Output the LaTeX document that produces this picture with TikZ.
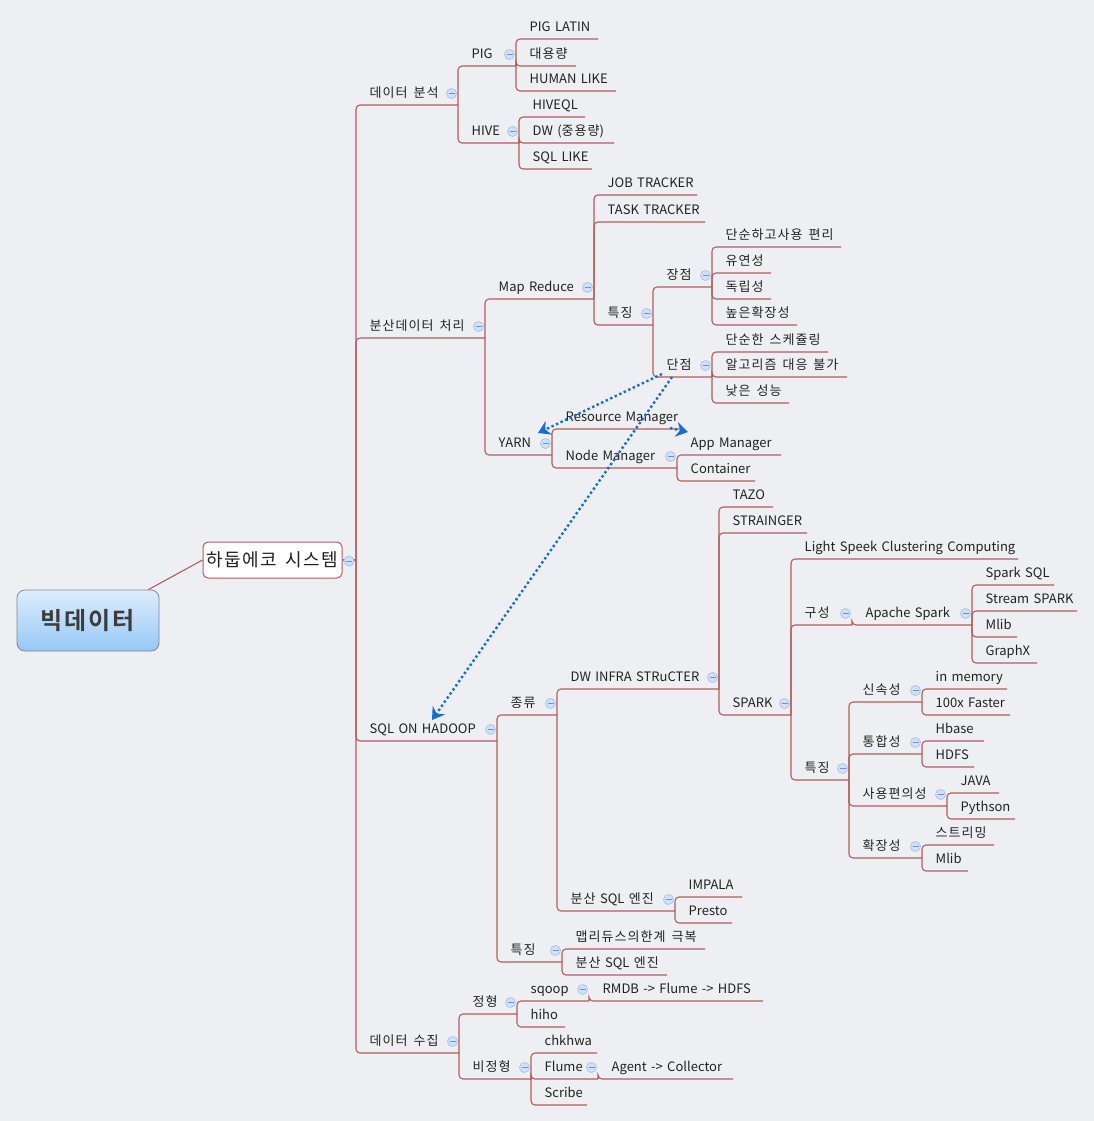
\documentclass[tikz,border=0pt]{standalone}
\usepackage{fontspec}
\setmainfont{Noto Sans CJK KR}[BoldFont={Noto Sans CJK KR Bold}, WordSpace=1.5]
\newfontfamily\krf{Noto Sans CJK KR}[BoldFont={Noto Sans CJK KR Bold}, LetterSpace=8, WordSpace=1.5]
\newcommand\kr[1]{{\krf #1}}
\usetikzlibrary{arrows.meta,shadings}
\definecolor{bgc}{RGB}{238,239,242}
\definecolor{brc}{RGB}{178,92,92}
\definecolor{txc}{RGB}{34,34,34}
\definecolor{icf}{RGB}{208,224,248}
\definecolor{icd}{RGB}{160,190,235}
\definecolor{icm}{RGB}{110,145,210}
\definecolor{relc}{RGB}{20,110,215}
\definecolor{rtop}{RGB}{222,237,253}
\definecolor{rbot}{RGB}{150,200,246}
\definecolor{rbrd}{RGB}{125,135,150}
\tikzset{
  branch/.style={draw=brc, line width=1.1pt, rounded corners=4pt},
  lbl/.style={inner sep=0pt, text=txc, font=\fontsize{13}{15}\selectfont},
  iconc/.style={circle, draw=icd, fill=icf, line width=0.6pt, minimum size=10pt, inner sep=0pt},
  iconm/.style={draw=icm, line width=1pt},
  rel/.style={draw=relc, line width=2.4pt, dash pattern=on 2.4pt off 2.6pt, -{Stealth[length=12pt,width=15pt,inset=4pt]}},
  hsbox/.style={draw=brc, fill=white, line width=1pt, rounded corners=5pt, minimum width=139pt, minimum height=36pt, inner sep=0pt, text=txc, font=\fontsize{18}{20}\selectfont},
  rootbox/.style={draw=rbrd, top color=rtop, bottom color=rbot, line width=0.8pt, rounded corners=8pt, minimum width=142pt, minimum height=61pt, inner sep=0pt, text={rgb,255:red,60;green,60;blue,60}, font=\fontsize{24}{26}\selectfont\bfseries}
}
% #1 name, #2 parent, #3 x end, #4 y, #5 text
\newcommand\tpc[5]{%
  \coordinate (#1-e) at (#3,#4);
  \coordinate (#1-s) at (#2-e |- #1-e);
  \draw[branch] (#2-e) |- (#1-e);
  \node[lbl, anchor=base west] (#1) at ([shift={(13.5,-7.5)}]#1-s) {#5};
}
\newcommand\icn[1]{%
  \node[iconc] at ([shift={(-6.5,-11.5)}]#1-e) {};
  \draw[iconm] ([shift={(-9.5,-11.5)}]#1-e) -- ++(6,0);
}
\begin{document}
\begin{tikzpicture}[x=1pt,y=-1pt]
\fill[bgc] (0,0) rectangle (1094,1121);
\useasboundingbox (0,0) rectangle (1094,1121);

\node[rootbox] (root) at (88,620.5) {\kr{빅데이터}};
\node[hsbox] (hs) at (272.5,560) {\kr{하둡에코 시스템}};
\coordinate (hs-e) at (356,560);
\draw[branch] ([xshift=-11pt]root.north east) -- (hs.west);
\draw[branch] (hs.east) -- (hs-e);

% Level 1
\tpc{da}{hs}{458}{105}{\kr{데이터 분석}}
\tpc{bd}{hs}{485}{338}{\kr{분산데이터 처리}}
\tpc{soh}{hs}{497}{741}{SQL ON HADOOP}
\tpc{dc}{hs}{459}{1053}{\kr{데이터 수집}}

% 데이터 분석
\tpc{pig}{da}{516}{66}{PIG}
\tpc{hive}{da}{519}{143}{HIVE}
\tpc{pl}{pig}{598}{39}{PIG LATIN}
\tpc{dy}{pig}{576}{66}{\kr{대용량}}
\tpc{hl}{pig}{616}{91}{HUMAN LIKE}
\tpc{hq}{hive}{585}{117}{HIVEQL}
\tpc{dw}{hive}{614}{143}{DW (\kr{중용량})}
\tpc{sl}{hive}{592}{169}{SQL LIKE}

% 분산데이터 처리
\tpc{mr}{bd}{594}{299}{Map Reduce}
\tpc{yarn}{bd}{552}{455}{YARN}
\tpc{jt}{mr}{697}{195}{JOB TRACKER}
\tpc{tt}{mr}{705}{222}{TASK TRACKER}
\tpc{mrf}{mr}{653}{325}{\kr{특징}}
\tpc{jj}{mrf}{712}{287}{\kr{장점}}
\tpc{dan}{mrf}{712}{377}{\kr{단점}}
\tpc{a1}{jj}{841}{247}{\kr{단순하고사용 편리}}
\tpc{a2}{jj}{771}{273}{\kr{유연성}}
\tpc{a3}{jj}{771}{299}{\kr{독립성}}
\tpc{a4}{jj}{797}{325}{\kr{높은확장성}}
\tpc{b1}{dan}{828}{352}{\kr{단순한 스케쥴링}}
\tpc{b2}{dan}{847}{377}{\kr{알고리즘 대응 불가}}
\tpc{b3}{dan}{789}{403}{\kr{낮은 성능}}
\tpc{rm}{yarn}{683}{429}{Resource Manager}
\tpc{nm}{yarn}{677}{468}{Node Manager}
\tpc{am}{nm}{781}{455}{App Manager}
\tpc{ct}{nm}{755}{481}{Container}

% SQL ON HADOOP
\tpc{kind}{soh}{557}{715}{\kr{종류}}
\tpc{sf}{soh}{562}{962}{\kr{특징}}
\tpc{dwi}{kind}{719}{689}{DW INFRA STRuCTER}
\tpc{dse}{kind}{675}{911}{\kr{분산} SQL \kr{엔진}}
\tpc{tazo}{dwi}{773}{507}{TAZO}
\tpc{str}{dwi}{807}{533}{STRAINGER}
\tpc{spark}{dwi}{791}{715}{SPARK}
\tpc{lsc}{spark}{1018}{559}{Light Speek Clustering Computing}
\tpc{gs}{spark}{852}{625}{\kr{구성}}
\tpc{spf}{spark}{849}{780}{\kr{특징}}
\tpc{as}{gs}{972}{625}{Apache Spark}
\tpc{s1}{as}{1054}{585}{Spark SQL}
\tpc{s2}{as}{1077}{611}{Stream SPARK}
\tpc{s3}{as}{1017}{637}{Mlib}
\tpc{s4}{as}{1037}{663}{GraphX}
\tpc{c1}{spf}{922}{702}{\kr{신속성}}
\tpc{c2}{spf}{922}{754}{\kr{통합성}}
\tpc{c3}{spf}{947}{806}{\kr{사용편의성}}
\tpc{c4}{spf}{922}{858}{\kr{확장성}}
\tpc{d1}{c1}{1007}{689}{in memory}
\tpc{d2}{c1}{1010}{715}{100x Faster}
\tpc{d3}{c2}{984}{741}{Hbase}
\tpc{d4}{c2}{974}{767}{HDFS}
\tpc{d5}{c3}{999}{793}{JAVA}
\tpc{d6}{c3}{1015}{819}{Pythson}
\tpc{d7}{c4}{994}{845}{\kr{스트리밍}}
\tpc{d8}{c4}{968}{871}{Mlib}
\tpc{e1}{dse}{742}{897}{IMPALA}
\tpc{e2}{dse}{732}{923}{Presto}
\tpc{f1}{sf}{705}{949}{\kr{맵리듀스의한계 극복}}
\tpc{f2}{sf}{667}{975}{\kr{분산} SQL \kr{엔진}}

% 데이터 수집
\tpc{jh}{dc}{517}{1014}{\kr{정형}}
\tpc{bj}{dc}{531}{1079}{\kr{비정형}}
\tpc{sq}{jh}{589}{1001}{sqoop}
\tpc{hh}{jh}{565}{1027}{hiho}
\tpc{rmdb}{sq}{763}{1001}{RMDB -> Flume -> HDFS}
\tpc{ck}{bj}{597}{1053}{chkhwa}
\tpc{fl}{bj}{598}{1079}{Flume}
\tpc{sc}{bj}{587}{1105}{Scribe}
\tpc{ag}{fl}{733}{1079}{Agent -> Collector}

% collapse icons
\node[iconc] at (349,561) {};
\draw[iconm] (346,561) -- ++(6,0);
\foreach \n in {da,bd,soh,dc,pig,hive,mr,yarn,mrf,jj,dan,nm,kind,sf,dwi,dse,spark,gs,spf,as,c1,c2,c3,c4,jh,bj,sq,fl}{\icn{\n}}

% relationship arrows
\draw[rel] ([shift={(-4.5,4.5)}]dan.base west) -- ([shift={(39.5,-14.5)}]yarn.base west);
\draw[rel] ([shift={(5.5,7.5)}]dan.base west) -- ([shift={(62.5,-13.5)}]soh.base west);
\draw[rel] ([shift={(104.5,6.5)}]rm.base west) -- ([shift={(-2.5,-15.5)}]am.base west);
\end{tikzpicture}
\end{document}
